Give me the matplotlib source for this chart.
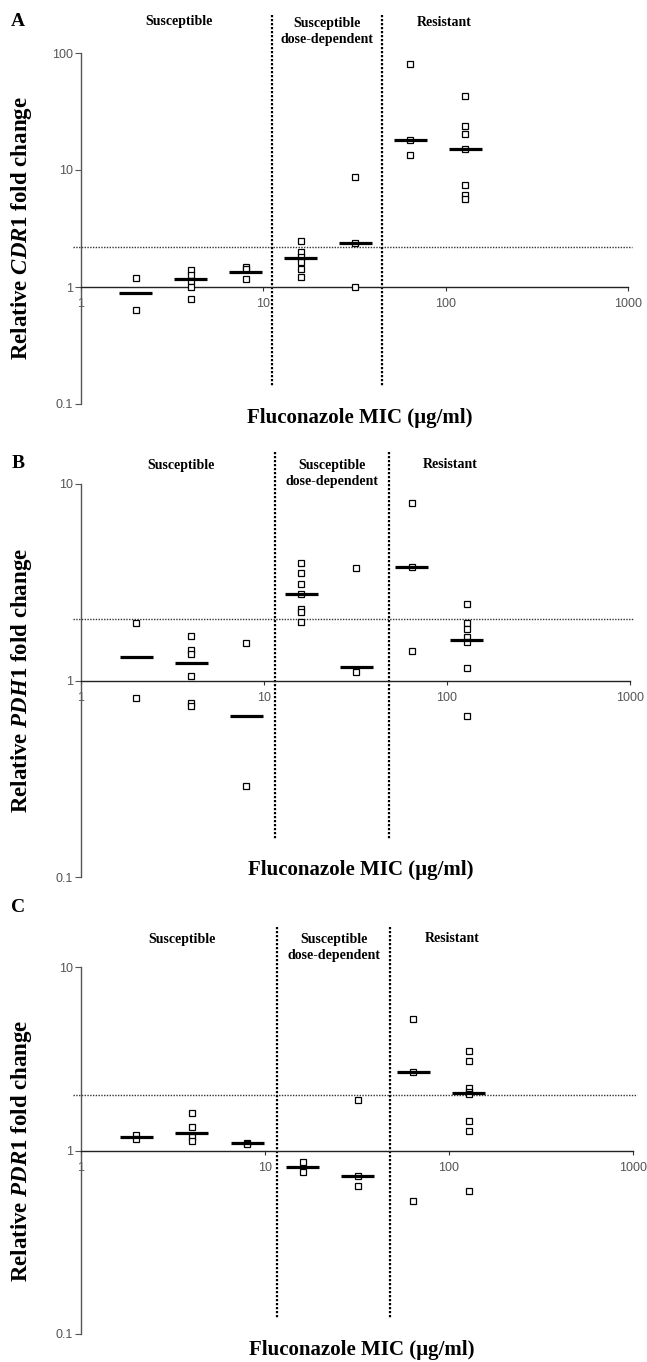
import numpy as np
import matplotlib
matplotlib.use("Agg")
import matplotlib.pyplot as plt

# MIC groups (ug/ml) shared by all three panels
mic = [2, 4, 8, 16, 32, 64, 128]

# A: CDR1 relative fold change, one list per MIC group
cdr1_points = [[1.20, 0.64],
               [1.40, 1.26, 1.13, 1.00, 0.79],
               [1.49, 1.42, 1.16],
               [2.49, 2.00, 1.82, 1.65, 1.42, 1.22],
               [8.77, 2.39, 1.00],
               [80.5, 18.0, 13.4],
               [43.2, 23.8, 20.2, 15.0, 7.4, 6.1, 5.65]]
cdr1_median = [0.895, 1.18, 1.35, 1.76, 2.39, 18.0, 15.0]

# B: PDH1
pdh1_points = [[1.97, 0.81],
               [1.69, 1.43, 1.37, 1.06, 0.77, 0.74],
               [1.55, 0.29],
               [3.95, 3.54, 3.08, 2.76, 2.31, 2.22, 1.99],
               [3.73, 1.10],
               [8.03, 3.80, 1.41],
               [2.45, 1.96, 1.83, 1.66, 1.57, 1.16, 0.66]]
pdh1_median = [1.31, 1.23, 0.66, 2.75, 1.17, 3.80, 1.61]

# C: PDR1
pdr1_points = [[1.22, 1.15],
               [1.60, 1.34, 1.19, 1.13],
               [1.10, 1.09],
               [0.87, 0.76],
               [1.88, 0.73, 0.64],
               [5.21, 2.68, 0.53],
               [3.49, 3.09, 2.18, 2.09, 2.04, 1.45, 1.27, 0.60]]
pdr1_median = [1.19, 1.25, 1.10, 0.81, 0.73, 2.68, 2.05]

# breakpoints and the 2-fold line per panel
breaks_a = [11.1, 45]
breaks_b = [11.5, 48]
breaks_c = [11.6, 48]
cutoff = [2.2, 2.05, 2.0]

W, H = 647, 1362
SERIF = "Liberation Serif"
SANS = "Liberation Sans"
plt.rcParams["mathtext.fontset"] = "custom"
plt.rcParams["mathtext.it"] = "Liberation Serif:italic:bold"
plt.rcParams["mathtext.rm"] = "Liberation Serif:bold"

fig = plt.figure(figsize=(W / 100, H / 100), dpi=100)


def px(x, y):
    # pixel position -> figure fraction
    return x / W, 1 - y / H


def panel(rect, points, medians, breaks, cut, ymax, vspan, gene, letter,
          letter_y, head_y, xlabel_y):
    left, top, right, bottom = rect
    ax = fig.add_axes([left / W, 1 - bottom / H, (right - left) / W, (bottom - top) / H])
    ax.set_xscale("log")
    ax.set_yscale("log")
    ax.set_xlim(1, 1000)
    ax.set_ylim(0.1, ymax)

    for sp in ["top", "right"]:
        ax.spines[sp].set_visible(False)
    ax.spines["bottom"].set_position(("data", 1))
    ax.spines["bottom"].set_color("#222222")
    ax.spines["bottom"].set_linewidth(1.0)
    ax.spines["left"].set_color("#555555")
    ax.spines["left"].set_linewidth(1.0)

    yt = [t for t in [0.1, 1, 10, 100] if t <= ymax]
    ax.set_yticks(yt)
    ax.set_yticklabels(["0.1" if t < 1 else str(int(t)) for t in yt])
    ax.set_xticks([1, 10, 100, 1000])
    ax.set_xticklabels(["1", "10", "100", "1000"])
    ax.minorticks_off()
    ax.tick_params(axis="y", direction="out", length=4, width=0.8, color="#555555",
                   labelsize=9, labelcolor="#555555", pad=2)
    ax.tick_params(axis="x", direction="out", length=3, width=0.8, color="#333333",
                   labelsize=9, labelcolor="#555555", pad=5)
    for lab in ax.get_xticklabels() + ax.get_yticklabels():
        lab.set_family(SANS)

    # 2-fold cutoff and breakpoint lines
    ax.plot([0.9, 1050], [cut, cut], color="#333333", lw=1.0,
            ls=(0, (1, 1)), clip_on=False, zorder=1)
    for b in breaks:
        ax.plot([b, b], vspan, color="black", lw=1.6, ls=(0, (1, 0.8)),
                clip_on=False, zorder=1)

    # individual isolates and medians
    for m, vals, med in zip(mic, points, medians):
        ax.plot([m] * len(vals), vals, ls="none", marker="s", ms=4.2,
                mfc="white", mec="black", mew=0.9, zorder=3)
        ax.plot([m / 1.23, m * 1.23], [med, med], color="black", lw=2.3,
                solid_capstyle="butt", zorder=4)

    # text
    cx = (left + right) / 2
    fig.text(*px(22, (top + bottom) / 2),
             "Relative $\\mathit{" + gene + "}$ fold change", rotation=90,
             ha="center", va="center", family=SERIF, weight="bold", fontsize=16.5)
    fig.text(*px(cx + 5, xlabel_y), "Fluconazole MIC (\u00b5g/ml)", ha="center",
             va="center", family=SERIF, weight="bold", fontsize=15)
    fig.text(*px(18, letter_y), letter, ha="center", va="center", family=SERIF,
             weight="bold", fontsize=14)
    bx = [left + (right - left) * np.log10(b) / 3 for b in breaks]
    fig.text(*px((left + bx[0]) / 2 + 3, head_y), "Susceptible", ha="center",
             va="center", family=SERIF, weight="bold", fontsize=10)
    fig.text(*px((bx[0] + bx[1]) / 2, head_y + 9), "Susceptible\ndose-dependent",
             ha="center", va="center", family=SERIF, weight="bold", fontsize=10,
             linespacing=1.3)
    fig.text(*px(bx[1] + 62, head_y), "Resistant", ha="center", va="center",
             family=SERIF, weight="bold", fontsize=10)
    return ax


panel((81, 53, 628, 404), cdr1_points, cdr1_median, breaks_a, cutoff[0], 100,
      [211, 0.143], "CDR1", "A", 22, 22, 418)
panel((81, 484, 630, 877), pdh1_points, pdh1_median, breaks_b, cutoff[1], 10,
      [14.5, 0.155], "PDH1", "B", 463, 465, 870)
panel((81, 967, 633, 1334), pdr1_points, pdr1_median, breaks_c, cutoff[2], 10,
      [16.6, 0.121], "PDR1", "C", 908, 939, 1350)

fig.savefig("out.png", dpi=100, facecolor="white")
